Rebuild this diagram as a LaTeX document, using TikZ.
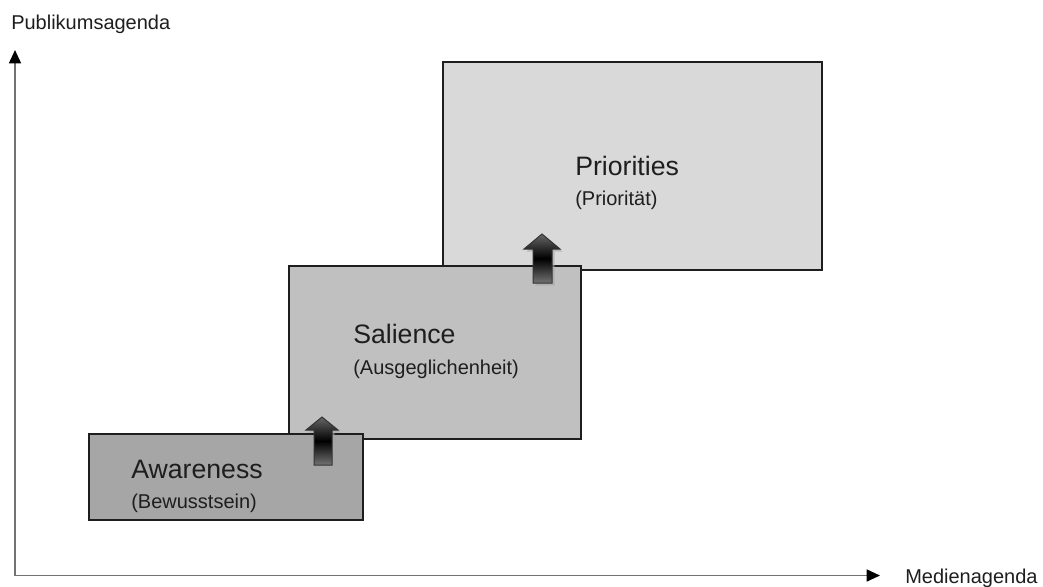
\documentclass[tikz,border=0pt]{standalone}
\usepackage{fontspec}
\setmainfont{Liberation Sans}
\usetikzlibrary{arrows.meta}
\definecolor{txt}{HTML}{1E1E1E}
\definecolor{fa}{HTML}{A6A6A6}
\definecolor{fs}{HTML}{C0C0C0}
\definecolor{fp}{HTML}{D9D9D9}
\begin{document}
\begin{tikzpicture}[x=0.75pt,y=-0.75pt,
  box/.style={draw=txt,line width=0.9pt,inner sep=0pt},
  big/.style={anchor=base west,text=txt,font=\fontsize{20}{24}\selectfont,inner sep=0pt},
  small/.style={anchor=base west,text=txt,font=\fontsize{15}{18}\selectfont,inner sep=0pt},
  axis/.style={draw=black!55,line width=1.2pt,-{Triangle[color=black,length=10pt,width=9pt]}},
  upshade/.style={draw=black!80,line width=0.75pt,top color=black!60,bottom color=black!55,middle color=black},
  shadowfill/.style={fill=black!35,draw=none,opacity=0.6}]
\useasboundingbox (0,0) rectangle (1043,586);
% boxes
\node[box,fill=fp,minimum width=284.25pt,minimum height=156pt] (pri) at (632.5,166) {};
\node[box,fill=fs,minimum width=219pt,minimum height=129.75pt] (sal) at (435,352.5) {};
\node[box,fill=fa,minimum width=205.5pt,minimum height=64.5pt] (awa) at (226,477) {};
% texts
\node[big] (t1) at (575,175) {Priorities};
\node[small] (t2) at (575,205) {(Priorität)};
\node[big] (t3) at (353,343) {Salience};
\node[small] (t4) at (353,374) {(Ausgeglichenheit)};
\node[big] (t5) at (131,478) {Awareness};
\node[small] (t6) at (131,508) {(Bewusstsein)};
% up arrows
\fill[shadowfill] (324.5,419.5) -- (340.5,432.5) -- (334.5,432.5) -- (334.5,467.5) -- (316.5,467.5) -- (316.5,432.5) -- (308.5,432.5) -- cycle;
\path[upshade] (322,417) -- (338,430) -- (332,430) -- (332,465) -- (314,465) -- (314,430) -- (306,430) -- cycle;
\fill[shadowfill] (544.5,236.5) -- (562.5,251.5) -- (554.5,251.5) -- (554.5,285.5) -- (535.5,285.5) -- (535.5,251.5) -- (526.5,251.5) -- cycle;
\path[upshade] (542,234) -- (560,249) -- (552,249) -- (552,283) -- (533,283) -- (533,249) -- (524,249) -- cycle;
% axes
\coordinate (o) at (15,575.5);
\coordinate (ytip) at (15,50);
\coordinate (xtip) at (880,575.5);
\draw[axis] (o) -- (ytip);
\draw[axis] (o) -- (xtip);
\node[anchor=base west,text=txt,font=\fontsize{15}{18}\selectfont,inner sep=0pt] (yl) at (11,29) {Publikumsagenda};
\node[anchor=base west,text=txt,font=\fontsize{15}{18}\selectfont,inner sep=0pt] (xl) at (905,583) {Medienagenda};
\end{tikzpicture}
\end{document}
